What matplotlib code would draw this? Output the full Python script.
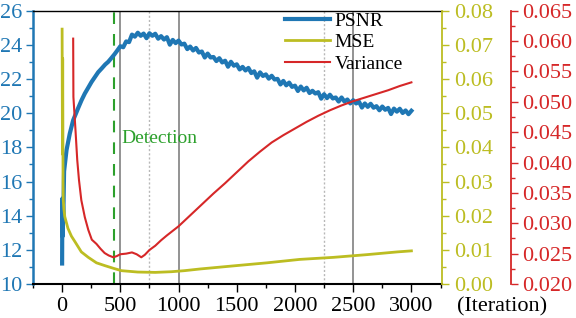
import matplotlib
matplotlib.use("Agg")
import matplotlib.pyplot as plt
from matplotlib import font_manager
from matplotlib.ticker import MultipleLocator, FormatStrFormatter

serif_name = 'Liberation Serif'
for f in font_manager.findSystemFonts():
    if 'LiberationSerif-Regular' in f:
        font_manager.fontManager.addfont(f)
        serif_name = font_manager.FontProperties(fname=f).get_name()
        break
plt.rcParams['font.family'] = [serif_name, 'DejaVu Serif']

# ---------------- data ----------------
psnr_iter = [0, 2, 4, 6, 10, 17, 38, 66, 95, 120, 138, 167, 195, 225, 253, 280, 310, 340, 370, 395,
             420, 450, 475,
             500, 525, 550, 575, 600, 625, 650, 675, 700, 725, 750, 775, 800, 825, 850, 875, 900, 925,
             950, 975, 1000, 1025, 1050, 1075, 1100, 1125, 1150, 1175, 1200, 1225, 1250, 1275, 1300,
             1325, 1350, 1375, 1400, 1425, 1450, 1475, 1500, 1525, 1550, 1575, 1600, 1625, 1650, 1675,
             1700, 1725, 1750, 1775, 1800, 1825, 1850, 1875, 1900, 1925, 1950, 1975, 2000, 2025, 2050,
             2075, 2100, 2125, 2150, 2175, 2200, 2225, 2250, 2275, 2300, 2325, 2350, 2375, 2400, 2425,
             2450, 2475, 2500, 2525, 2550, 2575, 2600, 2625, 2650, 2675, 2700, 2725, 2750, 2775, 2800,
             2825, 2850, 2875, 2900, 2925, 2950, 2975, 3000]
psnr = [11.2, 15.0, 12.8, 14.9, 13.8, 16.6, 17.84, 18.81, 19.59, 20.0, 20.3, 20.76, 21.15, 21.5, 21.83,
        22.1, 22.4, 22.62, 22.85, 23.0, 23.2, 23.45, 23.68,
        23.92, 23.86, 24.20, 24.16, 24.60, 24.48, 24.71, 24.53, 24.66, 24.39, 24.68, 24.53, 24.65, 24.36,
        24.51, 24.31, 24.45, 24.01, 24.29, 24.10, 24.25, 24.02, 24.07, 23.75, 23.90, 23.67, 23.82, 23.55,
        23.61, 23.26, 23.49, 23.26, 23.29, 23.05, 23.22, 22.97, 23.07, 22.72, 23.01, 22.78, 22.86, 22.56,
        22.71, 22.50, 22.65, 22.35, 22.45, 22.08, 22.39, 22.18, 22.27, 22.02, 22.19, 21.97, 22.01, 21.68,
        21.89, 21.63, 21.79, 21.54, 21.61, 21.30, 21.56, 21.33, 21.49, 21.18, 21.31, 21.15, 21.23, 20.85,
        21.11, 20.88, 21.08, 20.86, 20.92, 20.68, 20.92, 20.68, 20.80, 20.57, 20.76, 20.57, 20.67, 20.33,
        20.57, 20.37, 20.55, 20.32, 20.41, 20.17, 20.39, 20.20, 20.31, 19.95, 20.27, 20.09, 20.26, 20.01,
        20.16, 19.94, 20.14]

mse_iter = [0, 3, 5, 8, 10, 15, 23, 50, 80, 110, 165, 225, 295, 365, 440, 510, 650, 800, 940, 1050,
            1185, 1470, 1760, 2040, 2330, 2620, 2880, 3000]
mse = [0.0746, 0.038, 0.066, 0.030, 0.0246, 0.0220, 0.0197, 0.0163, 0.0140, 0.0124, 0.0094, 0.0078,
       0.0062, 0.0054, 0.0046, 0.0039, 0.0035, 0.0034, 0.0036, 0.0039, 0.0044, 0.0053, 0.0062, 0.0072,
       0.0078, 0.0086, 0.0094, 0.0097]

var_iter = [95, 97, 115, 130, 145, 165, 195, 225, 255, 295, 330, 365, 400, 440, 470, 500, 550, 600, 640,
            680, 710, 750, 800, 850, 900, 1000, 1100, 1200, 1300, 1400, 1500, 1600, 1700, 1800, 1900,
            2000, 2100, 2200, 2300, 2400, 2500, 2600, 2700, 2800, 2900, 3000]
variance = [0.0604, 0.0508, 0.0453, 0.0404, 0.0371, 0.0338, 0.0310, 0.0289, 0.0273, 0.0266, 0.0258,
            0.0251, 0.0247, 0.0244, 0.0246, 0.0249, 0.0250, 0.0252, 0.0249, 0.0244, 0.0248, 0.0256,
            0.0263, 0.0272, 0.0280, 0.0295, 0.0313, 0.0331, 0.0349, 0.0366, 0.0384, 0.0402, 0.0418,
            0.0433, 0.0445, 0.0456, 0.0467, 0.0477, 0.0486, 0.0494, 0.0501, 0.0507, 0.0513, 0.0519,
            0.0526, 0.0532]

detection_iter = 445
solid_lines = [500, 1000, 2500]
dotted_lines = [750, 2250]
xticks = [0, 500, 1000, 1500, 2000, 2500, 3000]

BLUE = '#1f77b4'
OLIVE = '#bcbd22'
RED = '#d62728'
GREEN = '#2ca02c'

fig = plt.figure(figsize=(5.76, 3.18), dpi=100)
ax = fig.add_axes([0.0573, 0.1069, 0.7095, 0.8595])
ax2 = ax.twinx()
ax3 = ax.twinx()
ax3.spines['right'].set_position(('axes', 1.1696))

for x in solid_lines:
    ax.axvline(x, color='#808080', lw=1.2, zorder=0)
for x in dotted_lines:
    ax.axvline(x, color='#b8b8b8', lw=1.0, ls=(0, (1.5, 1.5)), zorder=0)
ax.axvline(detection_iter, color=GREEN, lw=1.5, dashes=(5.6, 4.8), zorder=1)
ax.text(505, 18.23, 'Detection', color=GREEN, fontsize=14, ha='left', va='baseline')

l1, = ax.plot(psnr_iter, psnr, color=BLUE, lw=3.0, label='PSNR')
l2, = ax2.plot(mse_iter, mse, color=OLIVE, lw=2.0, label='MSE')
l3, = ax3.plot(var_iter, variance, color=RED, lw=1.5, label='Variance')

ax.set_xlim(-250, 3260)
ax.set_ylim(10, 26)
ax2.set_ylim(0, 0.08)
ax3.set_ylim(0.020, 0.065)

FS = 16
ax.set_xticks(xticks)
ax.xaxis.set_minor_locator(MultipleLocator(250))
ax.yaxis.set_major_locator(MultipleLocator(2))
ax.yaxis.set_minor_locator(MultipleLocator(1))
ax2.yaxis.set_major_locator(MultipleLocator(0.01))
ax2.yaxis.set_minor_locator(MultipleLocator(0.005))
ax3.yaxis.set_major_locator(MultipleLocator(0.005))
ax3.yaxis.set_minor_locator(MultipleLocator(0.0025))
ax2.yaxis.set_major_formatter(FormatStrFormatter('%.2f'))
ax3.yaxis.set_major_formatter(FormatStrFormatter('%.3f'))

ax.tick_params(axis='x', which='major', length=6, width=1, labelsize=FS, colors='black')
ax.tick_params(axis='x', which='minor', length=3, width=1)
ax.tick_params(axis='y', which='major', length=5, width=1, labelsize=FS, colors=BLUE, pad=3)
ax.tick_params(axis='y', which='minor', length=3, width=1, colors=BLUE)
ax2.tick_params(axis='y', which='major', length=5, width=1, labelsize=FS, colors=OLIVE, pad=4)
ax2.tick_params(axis='y', which='minor', length=3, width=1, colors=OLIVE)
ax3.tick_params(axis='y', which='major', length=5, width=1, labelsize=FS, colors=RED, pad=3)
ax3.tick_params(axis='y', which='minor', length=3, width=1, colors=RED)

ax.spines['left'].set_color(BLUE)
ax.spines['left'].set_linewidth(1.8)
ax.spines['right'].set_visible(False)
ax.spines['bottom'].set_linewidth(1.5)
ax.spines['top'].set_linewidth(1.0)
for a in (ax2, ax3):
    a.spines['top'].set_visible(False)
    a.spines['bottom'].set_visible(False)
    a.spines['left'].set_visible(False)
ax2.spines['right'].set_color(OLIVE)
ax2.spines['right'].set_linewidth(1.3)
ax3.spines['right'].set_color(RED)
ax3.spines['right'].set_linewidth(1.3)

ax.text(1.1475, -0.082, '(Iteration)', transform=ax.transAxes, fontsize=FS,
        ha='center', va='center')

leg = ax3.legend([l1, l2, l3], ['PSNR', 'MSE', 'Variance'], loc='upper left',
                 bbox_to_anchor=(0.6166, 0.995), frameon=False, fontsize=14,
                 borderpad=0, borderaxespad=0, handlelength=2.3, handletextpad=0.25,
                 labelspacing=0.2)

fig.savefig('out.png', dpi=100)
